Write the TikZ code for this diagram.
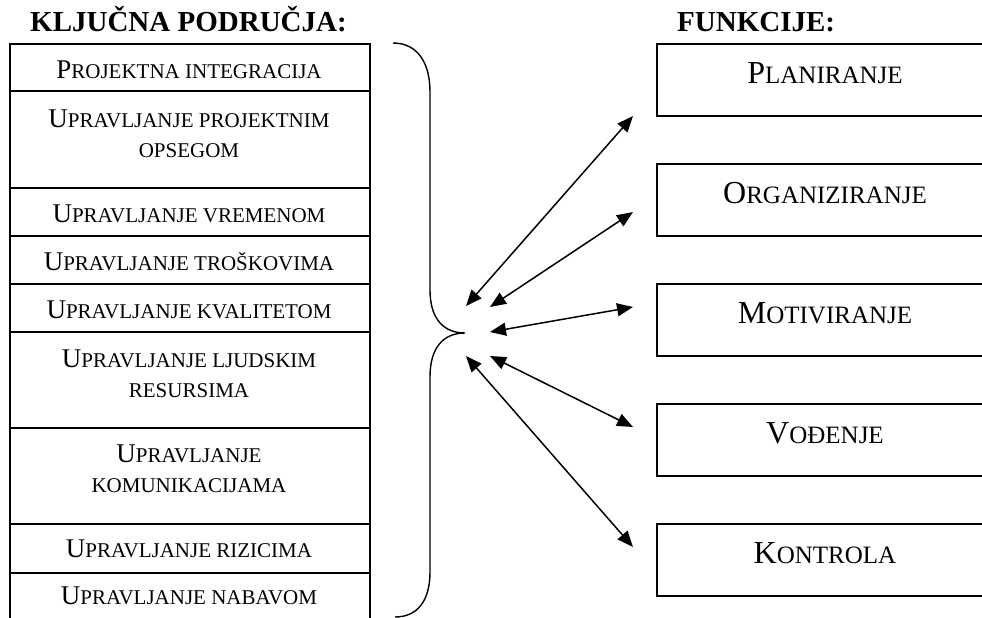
\documentclass[tikz,border=0pt]{standalone}
\usepackage{fontspec}
\setmainfont{Liberation Serif}
\usetikzlibrary{arrows.meta}
\newcommand\Lb[1]{{\fontsize{27}{30}\selectfont #1}}
\newcommand\Ls[1]{{\fontsize{21}{30}\selectfont #1}}
\newcommand\Rb[1]{{\fontsize{32}{36}\selectfont #1}}
\newcommand\Rs[1]{{\fontsize{25}{36}\selectfont #1}}
\begin{document}
\begin{tikzpicture}[x=1pt,y=-1pt,
  lbox/.style={draw, line width=1.6pt, minimum width=360pt, inner sep=0pt, anchor=north west},
  rbox/.style={draw, line width=1.6pt, minimum width=336pt, minimum height=72pt, inner sep=0pt, anchor=north},
  ltext/.style={anchor=base, inner sep=0pt, align=center, font=\fontsize{21}{30}\selectfont},
  rtext/.style={anchor=base, inner sep=0pt},
  head/.style={anchor=base west, inner sep=0pt, font=\fontsize{29}{32}\selectfont\bfseries},
  link/.style={line width=1.5pt, {Triangle[length=16pt,width=13pt]}-{Triangle[length=16pt,width=13pt]}},
  brace/.style={line width=1.4pt}]
\clip (0,0) rectangle (982,618);
\fill[white] (0,0) rectangle (982,618);

% headings
\node[head] (h1) at (30,32) {KLJUČNA PODRUČJA:};
\node[head] (h2) at (677,32) {FUNKCIJE:};

% left boxes
\node[lbox, minimum height=47pt] (l1) at (9,43) {};
\node[lbox, minimum height=97pt] (l2) at (9,90) {};
\node[lbox, minimum height=48pt] (l3) at (9,187) {};
\node[lbox, minimum height=48pt] (l4) at (9,235) {};
\node[lbox, minimum height=48pt] (l5) at (9,283) {};
\node[lbox, minimum height=96pt] (l6) at (9,331) {};
\node[lbox, minimum height=96pt] (l7) at (9,427) {};
\node[lbox, minimum height=49pt] (l8) at (9,523) {};
\node[lbox, minimum height=70pt] (l9) at (9,572) {};

% (multi-line texts: base anchor is at the last line's baseline)
\node[ltext] (t1) at (189,78) {\Lb{P}\Ls{ROJEKTNA INTEGRACIJA}};
\node[ltext] (t2) at (189,157) {\Lb{U}\Ls{PRAVLJANJE PROJEKTNIM}\\\Ls{OPSEGOM}};
\node[ltext] (t3) at (189,222) {\Lb{U}\Ls{PRAVLJANJE VREMENOM}};
\node[ltext] (t4) at (189,270) {\Lb{U}\Ls{PRAVLJANJE TROŠKOVIMA}};
\node[ltext] (t5) at (189,318) {\Lb{U}\Ls{PRAVLJANJE KVALITETOM}};
\node[ltext] (t6) at (189,397) {\Lb{U}\Ls{PRAVLJANJE LJUDSKIM}\\\Ls{RESURSIMA}};
\node[ltext] (t7) at (189,492) {\Lb{U}\Ls{PRAVLJANJE}\\\Ls{KOMUNIKACIJAMA}};
\node[ltext] (t8) at (189,557) {\Lb{U}\Ls{PRAVLJANJE RIZICIMA}};
\node[ltext] (t9) at (189,604) {\Lb{U}\Ls{PRAVLJANJE NABAVOM}};

% right boxes
\node[rbox] (r1) at (825,43) {};
\node[rbox] (r2) at (825,163) {};
\node[rbox] (r3) at (825,283) {};
\node[rbox] (r4) at (825,403) {};
\node[rbox] (r5) at (825,523) {};

\node[rtext] (s1) at (825,83) {\Rb{P}\Rs{LANIRANJE}};
\node[rtext] (s2) at (825,203) {\Rb{O}\Rs{RGANIZIRANJE}};
\node[rtext] (s3) at (825,323) {\Rb{M}\Rs{OTIVIRANJE}};
\node[rtext] (s4) at (825,443) {\Rb{V}\Rs{OĐENJE}};
\node[rtext] (s5) at (825,563) {\Rb{K}\Rs{ONTROLA}};

% brace
\draw[brace] (393,43) .. controls (417,43) and (430,62) .. (430,92)
  -- (430,290) .. controls (430,318) and (443,333) .. (465,333)
  .. controls (443,333) and (430,348) .. (430,377)
  -- (430,572) .. controls (430,600) and (418,617) .. (395,617);

% arrow ends
\coordinate (a1s) at (466,306); \coordinate (a1e) at (633,116);
\coordinate (a2s) at (490,307); \coordinate (a2e) at (633,212);
\coordinate (a3s) at (490,332); \coordinate (a3e) at (633,307);
\coordinate (a4s) at (490,356); \coordinate (a4e) at (633,427);
\coordinate (a5s) at (466,356); \coordinate (a5e) at (633,547);

\draw[link] (a1s) -- (a1e);
\draw[link] (a2s) -- (a2e);
\draw[link] (a3s) -- (a3e);
\draw[link] (a4s) -- (a4e);
\draw[link] (a5s) -- (a5e);
\end{tikzpicture}
\end{document}
